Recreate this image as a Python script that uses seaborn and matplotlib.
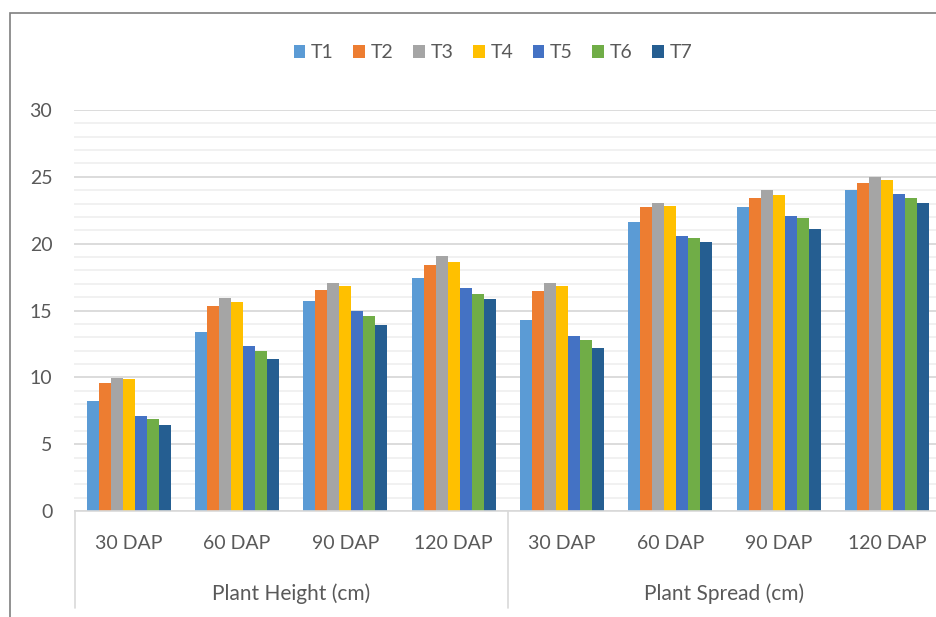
import matplotlib
matplotlib.use("Agg")
import matplotlib.pyplot as plt
import matplotlib.patches as patches
import matplotlib.transforms as mtransforms
from matplotlib.ticker import MultipleLocator
import numpy as np
import pandas as pd
import seaborn as sns

# Data
PARAMETERS = ["Plant Height (cm)", "Plant Spread (cm)"]
STAGES = ["30 DAP", "60 DAP", "90 DAP", "120 DAP"]
TREATMENTS = ["T1", "T2", "T3", "T4", "T5", "T6", "T7"]

height_30 = [8.2, 9.55, 9.95, 9.85, 7.1, 6.9, 6.4]
height_60 = [13.4, 15.3, 15.95, 15.65, 12.35, 12.0, 11.4]
height_90 = [15.7, 16.55, 17.05, 16.85, 15.0, 14.6, 13.9]
height_120 = [17.45, 18.4, 19.1, 18.65, 16.65, 16.25, 15.85]

spread_30 = [14.3, 16.45, 17.05, 16.85, 13.1, 12.8, 12.2]
spread_60 = [21.6, 22.75, 23.05, 22.85, 20.6, 20.4, 20.1]
spread_90 = [22.75, 23.45, 24.0, 23.65, 22.1, 21.95, 21.1]
spread_120 = [24.05, 24.55, 25.0, 24.75, 23.75, 23.45, 23.05]

COLORS = ["#5B9BD5", "#ED7D31", "#A5A5A5", "#FFC000", "#4472C4", "#70AD47", "#255E91"]

# build long table
groups = [height_30, height_60, height_90, height_120,
          spread_30, spread_60, spread_90, spread_120]
rows = []
for gi, vals in enumerate(groups):
    for t, v in zip(TREATMENTS, vals):
        rows.append({"group": gi, "treatment": t, "value": v})
df = pd.DataFrame(rows)

sns.set_theme(style="white")
plt.rcParams['font.family'] = ['Lato', 'DejaVu Sans']
TXT = "#595959"

fig = plt.figure(figsize=(9.37, 6.17), dpi=100)
ax = fig.add_axes([74.5 / 937, 106 / 617, 866.5 / 937, 401 / 617])

sns.barplot(data=df, x="group", y="value", hue="treatment", hue_order=TREATMENTS,
            palette=COLORS, width=0.776, saturation=1, ax=ax, legend=True,
            edgecolor="none", linewidth=0)

ax.set_xlim(-0.5, 7.5)
ax.set_ylim(0, 30)
ax.yaxis.set_major_locator(MultipleLocator(5))
ax.yaxis.set_minor_locator(MultipleLocator(1))
ax.grid(which="major", axis="y", color="#d9d9d9", linewidth=1.3)
ax.grid(which="minor", axis="y", color="#eeeeee", linewidth=1.1)
ax.set_axisbelow(True)

for s in ["top", "right", "left"]:
    ax.spines[s].set_visible(False)
ax.spines["bottom"].set_color("#d9d9d9")
ax.spines["bottom"].set_linewidth(1.2)

ax.set_xticks(range(8))
ax.set_xticklabels(STAGES * 2)
ax.tick_params(axis="x", length=0, pad=17, labelsize=14, labelcolor=TXT)
ax.tick_params(axis="y", length=0, pad=16, labelsize=14, labelcolor=TXT)
ax.set_xlabel("")
ax.set_ylabel("")

# second level category labels and separators
trans = mtransforms.blended_transform_factory(ax.transData, ax.transAxes)
for i, p in enumerate(PARAMETERS):
    ax.text(1.5 + 4 * i, -83 / 401, p, transform=trans, ha="center", va="center",
            fontsize=15, color=TXT)
for xs in [-0.5, 3.5, 7.5]:
    ax.plot([xs, xs], [0, -97 / 401], transform=trans, color="#d9d9d9",
            linewidth=1.2, clip_on=False)

# legend on top
handles, labels = ax.get_legend_handles_labels()
ax.legend(handles, labels, loc="center", bbox_to_anchor=(493 / 937, 1 - 53 / 617),
          bbox_transform=fig.transFigure, ncol=7, frameon=False, fontsize=14,
          handlelength=0.6, handleheight=0.6, handletextpad=0.3, columnspacing=1.0,
          labelcolor=TXT)

# chart border (cropped on the right and bottom)
fig.patches.append(patches.Rectangle((10 / 937, -0.2), 2, 1.2 - 13 / 617, fill=False,
                                     edgecolor="#7f7f7f", linewidth=1.2,
                                     transform=fig.transFigure, figure=fig))

fig.savefig("out.png", dpi=100)
